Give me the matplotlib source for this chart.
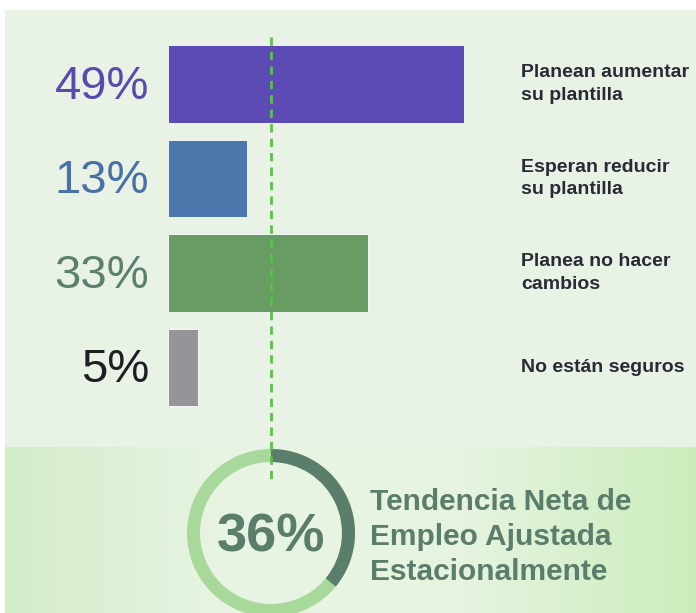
import numpy as np
import matplotlib.pyplot as plt
from matplotlib.patches import Rectangle, Wedge
from matplotlib.colors import LinearSegmentedColormap

plt.rcParams['font.family'] = ['Liberation Sans', 'DejaVu Sans']

# datos
pct = [49, 13, 33, 5]
labels = ['Planean aumentar\nsu plantilla', 'Esperan reducir\nsu plantilla',
          'Planea no hacer\ncambios', 'No están seguros']
bar_colors = ['#5d4bb5', '#4a78ad', '#679d63', '#949499']
pct_colors = ['#5a4aae', '#4a70a8', '#5b8070', '#1e1e24']
net_trend = 36
net_text = 'Tendencia Neta de\nEmpleo Ajustada\nEstacionalmente'

W, H = 696, 613
fig = plt.figure(figsize=(W / 100, H / 100), dpi=100)
fig.patch.set_facecolor('white')

# fondo en pixeles
bg = fig.add_axes([0, 0, 1, 1], zorder=0)
bg.axis('off')
bg.add_patch(Rectangle((5, 10), W - 5, 437, color='#e8f3e6', lw=0))
cmap = LinearSegmentedColormap.from_list('g', ['#d3ecc9', '#e9f5e4', '#e6f4df', '#cbedbc'])
grad = np.linspace(0, 1, 256).reshape(1, -1)
bg.imshow(grad, cmap=cmap, extent=(5, W, H, 447), aspect='auto')
bg.set_xlim(0, W)
bg.set_ylim(H, 0)

# barras
px = 6.05
x0, y_top, step = 168, 36.75, 94.5
ax = fig.add_axes([x0 / W, 1 - (y_top + 4 * step) / H, 60 * px / W, 4 * step / H], zorder=1)
ax.set_xlim(0, 60)
ax.set_ylim(3.5, -0.5)
ax.axis('off')
y = np.arange(len(pct))
ax.barh(y, pct, height=0.82, color=bar_colors, edgecolor='white', linewidth=0.6)
for i, (p, c) in enumerate(zip(pct, pct_colors)):
    ax.text(-3.1, i + 0.03, f'{p}%', ha='right', va='center', fontsize=34, color=c)
for i, lab in enumerate(labels):
    ax.text(58.4, i, lab, ha='left', va='center', fontsize=14, fontweight='bold',
            color='#2a2a36', linespacing=1.45, clip_on=False)

# capa superior: linea discontinua, anillo y texto
ov = fig.add_axes([0, 0, 1, 1], zorder=2)
ov.set_xlim(0, W)
ov.set_ylim(H, 0)
ov.axis('off')
ov.patch.set_alpha(0)
ov.set_aspect('equal')
cx, cy, r = 271, 533, 84
ov.add_patch(Wedge((cx, cy), r, 0, 360, width=13, color='#a8d89a', lw=0))
# en coordenadas invertidas los angulos van en sentido horario
ov.add_patch(Wedge((cx, cy), r, -90, -90 + 360 * net_trend / 100, width=13, color='#5a7d6c', lw=0))
ov.plot([cx, cx], [37, 480], ls=(0, (3, 2.2)), color='#5cc04a', lw=2)
ov.text(cx, cy + 4, f'{net_trend}%', ha='center', va='center', fontsize=39,
        fontweight='bold', color='#5a7d6c')
ov.text(370, 537, net_text, ha='left', va='center', fontsize=21.5, fontweight='bold',
        color='#5a7d6c', linespacing=1.3)

fig.savefig('out.png', dpi=100)
